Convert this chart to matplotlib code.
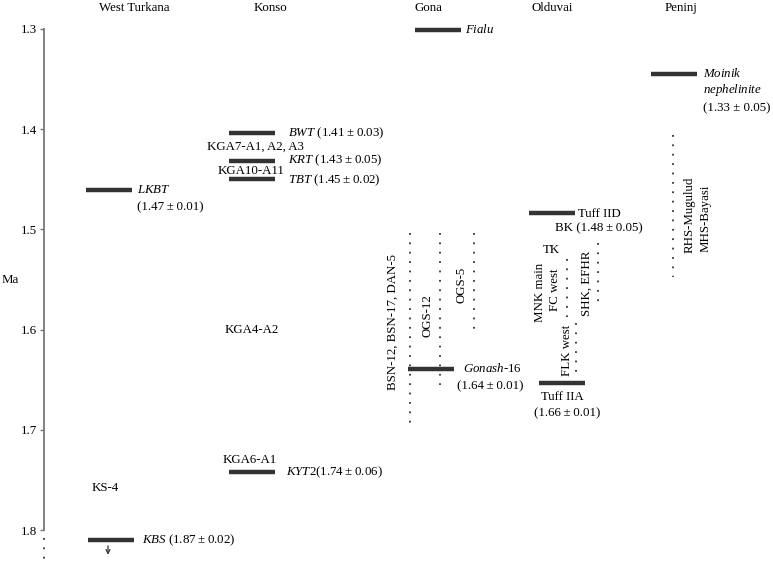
import matplotlib.pyplot as plt

plt.rcParams['font.family'] = ['Liberation Serif', 'DejaVu Serif']
plt.rcParams['mathtext.fontset'] = 'custom'
plt.rcParams['mathtext.rm'] = 'Liberation Serif'
plt.rcParams['mathtext.it'] = 'Liberation Serif:italic'

# sites (column headers) and their horizontal layout position
sites = ['West Turkana', 'Konso', 'Gona', 'Olduvai', 'Peninj']
site_x = [134, 270, 428, 552, 681]

# dated tuffs: level in Ma
tuff_names = ['LKBT', 'KBS', 'BWT', 'KRT', 'TBT', 'KYT2', 'Fialu', 'Gonash-16',
              'Tuff IID', 'Tuff IIA', 'Moinik nephelinite']
tuff_ma = [1.461, 1.810, 1.404, 1.432, 1.450, 1.742, 1.301, 1.639, 1.484, 1.653, 1.345]
bar_left = [86, 88, 229, 229, 229, 229, 415, 408, 529, 539, 651]
bar_len = 46

# dotted ranges (Ma)
dot_names = ['', 'BSN-12, BSN-17, DAN-5', 'OGS-12', 'OGS-5', 'FC west', 'FLK west',
             'SHK, EFHR', 'RHS']
dot_top = [1.808, 1.504, 1.504, 1.504, 1.530, 1.593, 1.514, 1.406]
dot_bot = [1.830, 1.700, 1.655, 1.602, 1.587, 1.643, 1.577, 1.548]
dot_x = [44, 410, 440, 474, 567, 576, 598, 673]

yticks = [1.3, 1.4, 1.5, 1.6, 1.7, 1.8]

TS = '\u2009'  # thin space around the plus-minus sign


def age(a, b):
    return f'({a}{TS}±{TS}{b})'


fig = plt.figure(figsize=(7.73, 5.61), dpi=100)
ax = fig.add_axes([44 / 773, 0, 1 - 44 / 773, 1])
ax.set_xlim(44, 773)
ax.set_ylim(1.8309, 1.2711)
for s in ['top', 'right', 'bottom']:
    ax.spines[s].set_visible(False)
ax.spines['left'].set_bounds(1.3, 1.8)
ax.spines['left'].set_color('#777777')
ax.spines['left'].set_linewidth(1.3)
ax.set_xticks([])
ax.set_yticks(yticks)
ax.set_yticklabels([f'{t:.1f}' for t in yticks])
ax.tick_params(axis='y', length=3, width=1, color='#777777', pad=2, labelsize=9.3)
ax.patch.set_visible(False)

fs = 9.3
for name, x in zip(sites, site_x):
    ax.text(x, 1.2795, name, ha='center', va='center', fontsize=fs)
fig.text(10 / 773, 1 - 280 / 561, 'Ma', ha='center', va='center', fontsize=fs)

for y, x0 in zip(tuff_ma, bar_left):
    ax.plot([x0, x0 + bar_len], [y, y], color='#333333', lw=3.2, solid_capstyle='butt')

for x, t, b in zip(dot_x, dot_top, dot_bot):
    ax.plot([x, x], [t, b], color='#333333', lw=1.3, linestyle=(0, (1, 4.2)),
            dash_capstyle='butt', clip_on=False)

ax.annotate('', xy=(108, 1.8275), xytext=(108, 1.813),
            arrowprops=dict(arrowstyle='->', color='#333333', lw=0.9, mutation_scale=7))


def label(x, y, s, **kw):
    kw.setdefault('ha', 'left')
    kw.setdefault('va', 'center')
    ax.text(x, y, s, fontsize=fs, **kw)


# West Turkana
label(137, 1.4607, r'$\mathit{LKBT}$')
label(137, 1.4776, age('1.47', '0.01'))
label(92, 1.7581, 'KS-4')
label(142, 1.8100, r'$\mathit{KBS}$ ' + age('1.87', '0.02'))

# Konso
label(288, 1.4038, r'$\mathit{BWT}$ ' + age('1.41', '0.03'))
label(207, 1.4178, 'KGA7-A1, A2, A3')
label(288, 1.4307, r'$\mathit{KRT}$ ' + age('1.43', '0.05'))
label(218, 1.4417, 'KGA10-A11')
label(288, 1.4507, r'$\mathit{TBT}$ ' + age('1.45', '0.02'))
label(252, 1.6004, 'KGA4-A2', ha='center')
label(250, 1.7301, 'KGA6-A1', ha='center')
label(286, 1.7421, r'$\mathit{KYT2}$' + age('1.74', '0.06'))

# Gona
label(465, 1.3010, r'$\mathit{Fialu}$')
label(463, 1.6393, r'$\mathit{Gonash}$-16')
label(457, 1.6563, age('1.64', '0.01'))
label(393, 1.5924, dot_names[1], ha='center', rotation=90)
label(428, 1.5864, dot_names[2], ha='center', rotation=90)
label(462, 1.5555, dot_names[3], ha='center', rotation=90)

# Olduvai
label(578, 1.4846, 'Tuff IID')
label(555, 1.4986, 'BK ' + age('1.48', '0.05'))
label(543, 1.5206, 'TK')
label(540, 1.5625, 'MNK main', ha='center', rotation=90)
label(555, 1.5605, dot_names[4], ha='center', rotation=90)
label(567, 1.6204, dot_names[5], ha='center', rotation=90)
label(587, 1.5535, dot_names[6], ha='center', rotation=90)
label(562, 1.6673, 'Tuff IIA', ha='center')
label(567, 1.6832, age('1.66', '0.01'), ha='center')

# Peninj
label(703, 1.3449, r'$\mathit{Moinik}$')
label(703, 1.3609, r'$\mathit{nephelinite}$')
label(703, 1.3788, '(1.33 ± 0.05)')
label(690, 1.4856, 'RHS-Mugulud', ha='center', rotation=90)
label(706, 1.4886, 'MHS-Bayasi', ha='center', rotation=90)

fig.savefig('out.png', dpi=100)
